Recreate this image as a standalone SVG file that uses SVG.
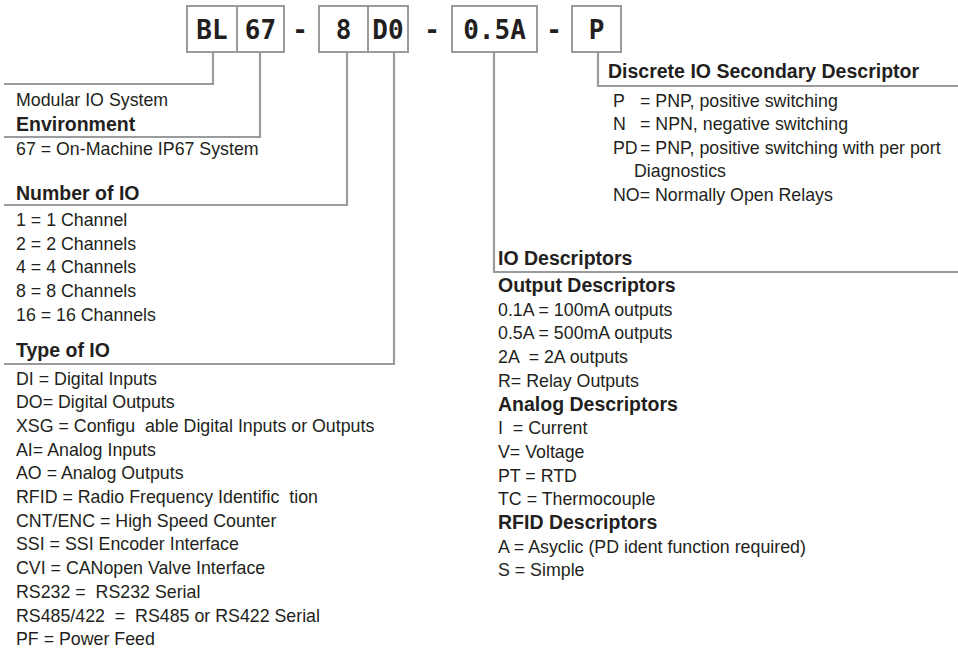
<svg xmlns="http://www.w3.org/2000/svg" width="958" height="651" viewBox="0 0 958 651">
<style>
.box{fill:#fff;stroke:#9a9b9d;stroke-width:2}
.ln{fill:none;stroke:#9a9b9d;stroke-width:2.2}
.code{font-family:"DejaVu Sans Mono",monospace;font-weight:bold;font-size:26px;fill:#231f20;text-anchor:middle}
.t{font-family:"Liberation Sans",Arial,sans-serif;font-size:17.8px;fill:#231f20;white-space:pre}
.h{font-family:"Liberation Sans",Arial,sans-serif;font-size:19.5px;font-weight:bold;fill:#231f20;white-space:pre}
</style>
<rect width="958" height="651" fill="#fff"/>
<g id="connectors">
<path class="ln" d="M213 52V84H4"/>
<path class="ln" d="M260 52V137H4"/>
<path class="ln" d="M347 52V205H4"/>
<path class="ln" d="M394 52V364H4"/>
<path class="ln" d="M494 52V272H958"/>
<path class="ln" d="M598 52V86H958"/>
</g>
<g id="code-BL"><rect class="box" x="187" y="6" width="50" height="46"/><text class="code" x="212" y="38.5">BL</text></g>
<g id="code-67"><rect class="box" x="237" y="6" width="47" height="46"/><text class="code" x="260.5" y="38.5">67</text></g>
<g id="dash1"><text class="code" x="300" y="38.5">-</text></g>
<g id="code-8"><rect class="box" x="319" y="6" width="49" height="46"/><text class="code" x="343.5" y="38.5">8</text></g>
<g id="code-D0"><rect class="box" x="368" y="6" width="40" height="46"/><text class="code" x="388" y="38.5">D0</text></g>
<g id="dash2"><text class="code" x="432" y="38.5">-</text></g>
<g id="code-05A"><rect class="box" x="452" y="6" width="85" height="46"/><text class="code" x="494.5" y="38.5">0.5A</text></g>
<g id="dash3"><text class="code" x="554" y="38.5">-</text></g>
<g id="code-P"><rect class="box" x="572" y="6" width="49" height="46"/><text class="code" x="596.5" y="38.5">P</text></g>

<g id="modular"><text class="t" x="16" y="106">Modular IO System</text></g>
<g id="environment">
<text class="h" x="16" y="131">Environment</text>
<text class="t" x="16" y="155">67 = On-Machine IP67 System</text>
</g>
<g id="number-of-io">
<text class="h" x="16" y="200">Number of IO</text>
<text class="t" x="16" y="226">1 = 1 Channel</text>
<text class="t" x="16" y="249.7">2 = 2 Channels</text>
<text class="t" x="16" y="273.4">4 = 4 Channels</text>
<text class="t" x="16" y="297.1">8 = 8 Channels</text>
<text class="t" x="16" y="320.8">16 = 16 Channels</text>
</g>
<g id="type-of-io">
<text class="h" x="16" y="357">Type of IO</text>
<text class="t" x="16" y="384.5">DI = Digital Inputs</text>
<text class="t" x="16" y="408.2">DO= Digital Outputs</text>
<text class="t" x="16" y="431.9">XSG = Configu  able Digital Inputs or Outputs</text>
<text class="t" x="16" y="455.6">AI= Analog Inputs</text>
<text class="t" x="16" y="479.3">AO = Analog Outputs</text>
<text class="t" x="16" y="503">RFID = Radio Frequency Identific  tion</text>
<text class="t" x="16" y="526.7">CNT/ENC = High Speed Counter</text>
<text class="t" x="16" y="550.4">SSI = SSI Encoder Interface</text>
<text class="t" x="16" y="574.1">CVI = CANopen Valve Interface</text>
<text class="t" x="16" y="597.8">RS232 =  RS232 Serial</text>
<text class="t" x="16" y="621.5">RS485/422  =  RS485 or RS422 Serial</text>
<text class="t" x="16" y="645.2">PF = Power Feed</text>
</g>
<g id="secondary-descriptor">
<text class="h" x="608" y="78">Discrete IO Secondary Descriptor</text>
<text class="t" x="613" y="106.5">P</text><text class="t" x="640" y="106.5">= PNP, positive switching</text>
<text class="t" x="613" y="130">N</text><text class="t" x="640" y="130">= NPN, negative switching</text>
<text class="t" x="613" y="153.5">PD</text><text class="t" x="640" y="153.5">= PNP, positive switching with per port</text>
<text class="t" x="634" y="177">Diagnostics</text>
<text class="t" x="613" y="200.5">NO= Normally Open Relays</text>
</g>
<g id="io-descriptors">
<text class="h" x="498" y="265">IO Descriptors</text>
<text class="h" x="498" y="292">Output Descriptors</text>
<text class="t" x="498" y="315.7">0.1A = 100mA outputs</text>
<text class="t" x="498" y="339.4">0.5A = 500mA outputs</text>
<text class="t" x="498" y="363.1">2A  = 2A outputs</text>
<text class="t" x="498" y="386.8">R= Relay Outputs</text>
<text class="h" x="498" y="410.5">Analog Descriptors</text>
<text class="t" x="498" y="434.2">I  = Current</text>
<text class="t" x="498" y="457.9">V= Voltage</text>
<text class="t" x="498" y="481.6">PT = RTD</text>
<text class="t" x="498" y="505.3">TC = Thermocouple</text>
<text class="h" x="498" y="529">RFID Descriptors</text>
<text class="t" x="498" y="552.7">A = Asyclic (PD ident function required)</text>
<text class="t" x="498" y="576.4">S = Simple</text>
</g>
</svg>
